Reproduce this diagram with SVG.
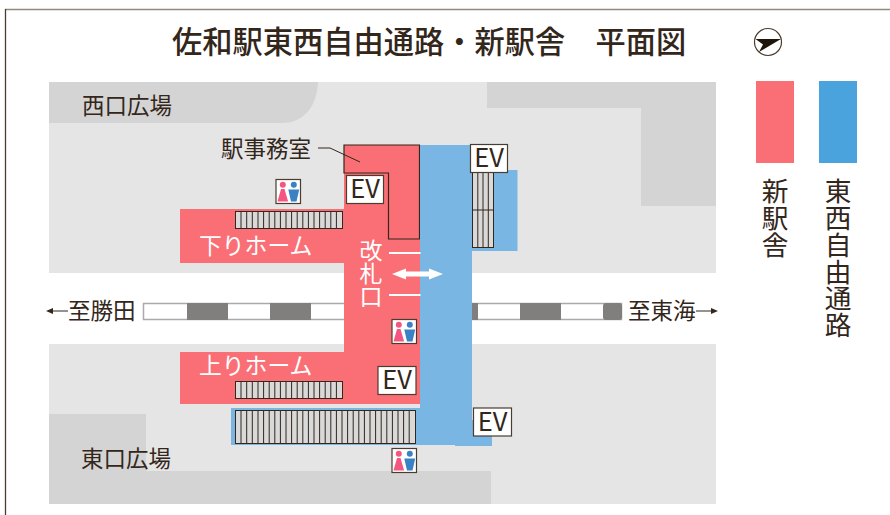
<svg xmlns="http://www.w3.org/2000/svg" width="890" height="515" viewBox="0 0 890 515">
<style>
text{font-family:"Noto Sans CJK JP","Liberation Sans",sans-serif;fill:#33261a}
.w{fill:#fff}
.v{writing-mode:vertical-rl;text-anchor:start}
.st{fill:#d9d9d9;stroke:#33261a;stroke-width:1}
.tr{stroke:#33261a;stroke-width:1;fill:none}
.box{fill:#fff;stroke:#4a3c2e;stroke-width:1.200}
.ev{font-size:25.500px;text-anchor:middle}
.l{font-size:22.500px}
.f{fill:#f4567f}.m{fill:#3b82c4}
</style>
<defs>
<g id="wc">
<rect x="0.500" y="0.500" width="24.500" height="24" class="box"/>
<circle cx="7.300" cy="5.800" r="3" class="f"/><path class="f" d="M5.500 10H9L12.600 22.500H2Z"/>
<circle cx="18.300" cy="5.800" r="3" class="m"/><path class="m" d="M12.800 10.500H23.700L21 22.500H15.500Z"/>
</g>
</defs>
<rect width="890" height="515" fill="#fff"/>
<path d="M890 9.500H5" fill="none" stroke="#8f8a7c" stroke-width="1.500"/>
<path d="M5.500 9V515" fill="none" stroke="#4a3c2e" stroke-width="1.300"/>
<g id="ground">
<rect x="49" y="82" width="667" height="191" fill="#e5e5e5"/>
<rect x="49" y="344" width="667" height="160" fill="#e5e5e5"/>
<path d="M49 82H318C317 105 305 123 282 123H49Z" fill="#d4d4d4"/>
<path d="M487 82H716V206H641V108H487Z" fill="#d4d4d4"/>
<path d="M49 414H146V471H491V504H49Z" fill="#d4d4d4"/>
</g>
<g id="track">
<rect x="143.500" y="303.500" width="478" height="16" fill="#fff" stroke="#aaa" stroke-width="1.500"/>
<rect x="187" y="303" width="41" height="17" fill="#807f7d"/>
<rect x="270" y="303" width="41" height="17" fill="#807f7d"/>
<rect x="472" y="303" width="6" height="17" fill="#807f7d"/>
<rect x="520" y="303" width="41" height="17" fill="#807f7d"/>
<rect x="603" y="303" width="19" height="17" rx="3" fill="#807f7d"/>
</g>
<g id="new-station">
<path d="M344 145H420V404H180V352H344V263H180V209H344Z" fill="#fa6f76"/>
<path d="M344 145H419.500V239H388.500V173H344Z" fill="#fa6f76" stroke="#33261a" stroke-width="1.200"/>
</g>
<g id="passage">
<path d="M420 145H472V170H517.500V251H472V420H492V446H455V445H231V408H420Z" fill="#7ab6e3"/>
</g>
<g id="stairs">
<rect x="235.500" y="211.500" width="107" height="17" class="st"/>
<path class="tr" d="M241 211.500v17M246.700 211.500v17M252.300 211.500v17M258 211.500v17M263.600 211.500v17M269.200 211.500v17M274.800 211.500v17M280.400 211.500v17M286 211.500v17M291.600 211.500v17M297.200 211.500v17M302.800 211.500v17M308.400 211.500v17M314 211.500v17M319.600 211.500v17M325.200 211.500v17M330.800 211.500v17M336.400 211.500v17"/>
<rect x="235.500" y="381.500" width="107" height="17" class="st"/>
<path class="tr" d="M241 381.500v17M246.700 381.500v17M252.300 381.500v17M258 381.500v17M263.600 381.500v17M269.200 381.500v17M274.800 381.500v17M280.400 381.500v17M286 381.500v17M291.600 381.500v17M297.200 381.500v17M302.800 381.500v17M308.400 381.500v17M314 381.500v17M319.600 381.500v17M325.200 381.500v17M330.800 381.500v17M336.400 381.500v17"/>
<rect x="235.500" y="410.500" width="180" height="33" class="st"/>
<path class="tr" d="M241 410.500v33M246.700 410.500v33M252.300 410.500v33M258 410.500v33M263.600 410.500v33M269.200 410.500v33M274.800 410.500v33M280.400 410.500v33M286 410.500v33M291.600 410.500v33M297.200 410.500v33M302.800 410.500v33M308.400 410.500v33M314 410.500v33M319.600 410.500v33M325.200 410.500v33M330.800 410.500v33M336.400 410.500v33M342 410.500v33M347.600 410.500v33M353.200 410.500v33M358.800 410.500v33M364.400 410.500v33M370 410.500v33M375.600 410.500v33M381.200 410.500v33M386.800 410.500v33M392.400 410.500v33M398 410.500v33M403.600 410.500v33M409.200 410.500v33"/>
<rect x="472.500" y="172.500" width="21" height="75" class="st"/>
<path class="tr" d="M472.500 210H493.500M477.800 172.500v75M483 172.500v75M488.300 172.500v75"/>
</g>
<g id="connectors">
<path d="M318 148H330L360 162" fill="none" stroke="#33261a" stroke-width="1"/>
<path d="M389 253H420.500M389 295H420.500" stroke="#fff" stroke-width="1.800"/>
<path d="M392 274L406 268.500V271.500H429V268.500L443 274L429 279.500V276.500H406V279.500Z" fill="#fff"/>
<path d="M46 311L53 308V310.400H68V311.600H53V314Z" fill="#33261a"/>
<path d="M718 311L711 308V310.400H696V311.600H711V314Z" fill="#33261a"/>
</g>
<g id="ev1"><rect x="346.500" y="175.500" width="37" height="28" class="box"/><text x="365" y="198" class="ev">EV</text></g>
<g id="ev2"><rect x="470.500" y="144.500" width="37" height="28" class="box"/><text x="489" y="167" class="ev">EV</text></g>
<g id="ev3"><rect x="378" y="366.500" width="38" height="28" class="box"/><text x="397" y="389" class="ev">EV</text></g>
<g id="ev4"><rect x="473.500" y="408" width="38" height="28" class="box"/><text x="492.500" y="431" class="ev">EV</text></g>
<g id="wc1"><use href="#wc" x="275.500" y="179"/></g>
<g id="wc2"><use href="#wc" x="391.500" y="319"/></g>
<g id="wc3"><use href="#wc" x="391.500" y="448"/></g>
<g id="compass">
<circle cx="768" cy="42" r="13.500" fill="#fff" stroke="#4a3c2e" stroke-width="1.200"/>
<path d="M755.500 39H781L759 52L763 44.500Z" fill="#1f140a"/>
</g>
<g id="legend">
<rect x="756" y="81" width="38" height="82" fill="#fa6f76"/>
<rect x="819" y="81" width="38" height="82" fill="#4aa3dc"/>
<text x="775" y="178" class="v" font-size="26.700">新駅舎</text>
<text x="838" y="178" class="v" font-size="26.700">東西自由通路</text>
</g>
<g id="labels">
<text x="172" y="53" font-size="30.250" font-weight="500">佐和駅東西自由通路・新駅舎　平面図</text>
<text x="82" y="114" class="l">西口広場</text>
<text x="81" y="467" class="l">東口広場</text>
<text x="221" y="157" class="l">駅事務室</text>
<text x="199" y="254" class="w" font-size="22.800">下りホーム</text>
<text x="199" y="374" class="w" font-size="22.800">上りホーム</text>
<text x="371" y="239" class="v w" font-size="23">改札口</text>
<text x="68" y="319" class="l">至勝田</text>
<text x="628" y="319" class="l">至東海</text>
</g>
</svg>
